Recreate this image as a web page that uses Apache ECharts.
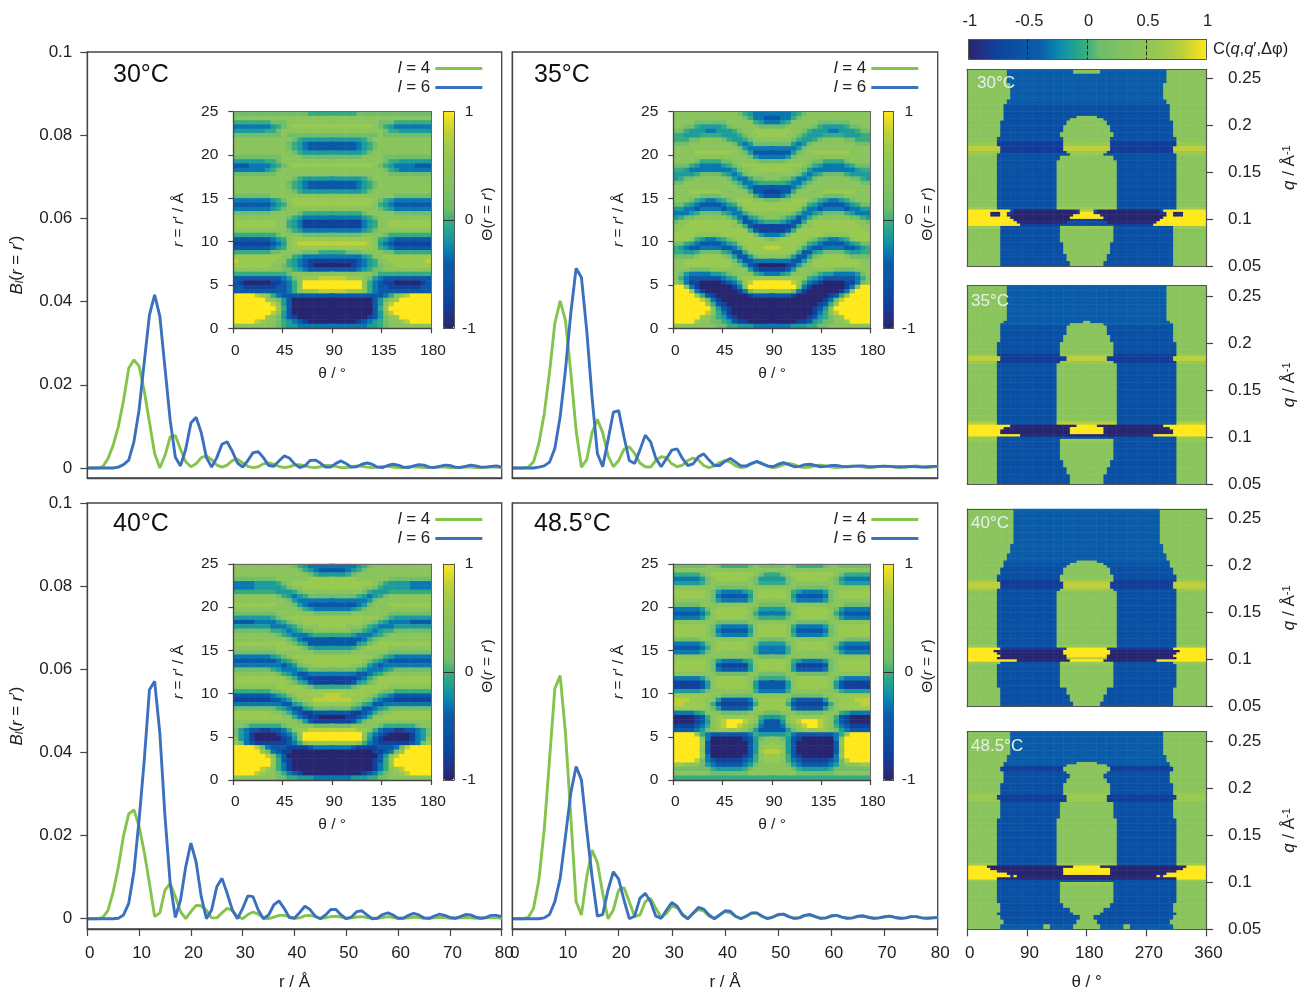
<!DOCTYPE html>
<html><head><meta charset="utf-8">
<style>html,body{margin:0;padding:0;background:#fff}#c{width:1298px;height:988px}</style>
<script src="https://cdn.jsdelivr.net/npm/echarts@6/dist/echarts.min.js"></script>
</head><body><div id="c"></div>
<script>
// ---------- B_l(r = r') curves, r = 0..80 A in 1 A steps ----------
const rValues=[...Array(81).keys()];
const l4_30=[0,0,0,.0003,.0023,.0055,.01,.0163,.024,.026,.0245,.0185,.011,.0035,0,.003,.0075,.0078,.0045,.0015,.0003,.001,.0025,.0029,.002,.0007,.0002,.0007,.0018,.0021,.0012,.0004,.0001,.0003,.001,.0012,.0009,.0004,.0001,.0003,.0007,.0008,.0005,.0002,.0001,.0003,.0006,.0006,.0004,.0001,.0001,.0003,.0005,.0004,.0002,.0001,.0002,.0004,.0004,.0002,.0001,.0001,.0003,.0003,.0002,.0001,.0001,.0002,.0003,.0002,.0001,.0001,.0002,.0003,.0002,.0001,.0001,.0002,.0002,.0002,.0001];
const l6_30=[0,0,0,0,0,0,.0002,.0008,.0019,.0063,.014,.0255,.0368,.0416,.0365,.024,.0115,.0026,.0005,.0045,.0108,.0122,.0085,.0025,.0002,.0025,.0057,.0063,.004,.0012,.0002,.0018,.0037,.0039,.0025,.0006,.0004,.0017,.0029,.0024,.001,.0001,.0005,.0018,.0019,.0012,.0002,.0002,.0011,.0017,.001,.0002,.0003,.0009,.0012,.0009,.0002,.0001,.0006,.0009,.0007,.0002,.0001,.0005,.0008,.0007,.0002,.0001,.0004,.0007,.0006,.0002,.0001,.0004,.0007,.0005,.0002,.0002,.0004,.0005,.0002];
const l4_35=[0,0,0,.0002,.0015,.0059,.013,.023,.0348,.0402,.0355,.023,.009,.0002,.002,.0085,.0117,.0085,.003,.0003,.0018,.0045,.0051,.0035,.0012,.0003,.0002,.0018,.0027,.0025,.001,.0003,.0007,.0018,.0024,.0019,.0006,.0001,.0005,.0013,.0018,.0014,.0005,.0001,.0003,.001,.0015,.0011,.0004,.0001,.0003,.0008,.0011,.0008,.0003,.0001,.0002,.0006,.0007,.0005,.0002,.0001,.0002,.0004,.0005,.0004,.0002,.0001,.0002,.0004,.0005,.0004,.0002,.0001,.0002,.0004,.0005,.0003,.0001,.0002,.0004];
const l6_35=[0,0,0,0,0,.0002,.0005,.0014,.0047,.0123,.0236,.0372,.048,.0458,.033,.017,.0035,.0003,.0067,.0134,.0138,.0075,.0018,.0011,.0043,.0079,.0063,.0023,.0003,.0023,.0043,.0046,.0023,.0006,.001,.0027,.0034,.0019,.0006,.0006,.0016,.0023,.0014,.0005,.0005,.0011,.0016,.001,.0005,.0003,.0009,.0013,.0008,.0003,.0004,.0008,.0009,.0006,.0003,.0004,.0006,.0006,.0004,.0003,.0004,.0005,.0005,.0003,.0003,.0004,.0004,.0004,.0003,.0003,.0003,.0004,.0003,.0002,.0003,.0004,.0004];
const l4_40=[0,0,0,.0003,.002,.0065,.0125,.02,.0252,.0262,.0222,.016,.0085,.0005,.0014,.0069,.0085,.0053,.0017,0,.0017,.0032,.0031,.002,.0002,.0002,.0014,.0025,.0019,.0005,0,.001,.0016,.0011,.0002,0,.0004,.0008,.0008,.0005,.0001,.0002,.0007,.0008,.0005,.0001,.0002,.0005,.0006,.0004,.0001,.0002,.0004,.0005,.0003,.0001,.0001,.0003,.0005,.0003,.0001,.0001,.0002,.0004,.0003,.0001,.0001,.0002,.0003,.0003,.0001,.0001,.0002,.0003,.0002,.0001,.0001,.0002,.0002,.0002,.0001];
const l6_40=[0,0,0,0,0,0,.0001,.0009,.0037,.0113,.0238,.0382,.0551,.0571,.0447,.0246,.0085,.0003,.0045,.0125,.0182,.0137,.0053,0,.0021,.0077,.0097,.0061,.0021,0,.0025,.0055,.0053,.0021,0,.0009,.0033,.0043,.0025,.0003,.0001,.0015,.003,.0022,.0006,0,.0009,.0022,.0022,.0009,0,.0004,.0017,.0019,.0009,0,.0001,.001,.0014,.0009,.0001,.0001,.0008,.0013,.0009,.0002,.0001,.0006,.0011,.0008,.0003,.0001,.0005,.001,.0009,.0004,.0001,.0003,.0008,.0008,.0005];
const l4_48=[0,0,0,.0003,.0025,.0093,.0214,.0382,.0553,.0585,.0447,.0246,.0041,.0009,.0101,.0165,.0135,.0061,0,.0021,.0069,.0075,.0041,.0005,.0009,.0041,.0049,.0025,.0003,.0013,.003,.0027,.0011,0,.0013,.0022,.0019,.0006,.0001,.0009,.0017,.0014,.0005,.0001,.0006,.0013,.0013,.0005,.0001,.0004,.0009,.0011,.0005,.0001,.0003,.0008,.0009,.0005,.0001,.0002,.0006,.0008,.0004,.0001,.0002,.0005,.0006,.0004,.0001,.0002,.0004,.0006,.0003,.0001,.0002,.0005,.0005,.0002,.0001,.0002,.0003];
const l6_48=[0,0,0,0,0,0,.0002,.001,.0041,.0097,.0198,.0302,.0366,.0334,.0214,.0101,.0006,.001,.0069,.0113,.0095,.0045,0,.0006,.0049,.0061,.0041,.0006,.0001,.0021,.0039,.003,.0009,0,.0013,.0027,.0023,.0009,0,.0009,.0019,.0018,.0006,0,.0006,.0014,.0014,.0006,0,.0004,.001,.0011,.0005,.0001,.0002,.0008,.001,.0005,.0001,.0002,.0007,.0008,.0004,.0001,.0002,.0006,.0007,.0003,.0001,.0002,.0005,.0006,.0003,.0001,.0002,.0005,.0005,.0002,.0001,.0002,.0003];

// ---------- Inset Theta(r = r') cells, one string per row (r = 25 at top, 0.5 A rows),
// half of the theta range (0..90 deg, 19 columns), characters index insetLevels ----------
const insetLevels={0:-1,1:-.75,2:-.5,3:-.3,4:-.15,5:-.03,6:.12,7:.4,8:.6,9:.8,Y:1};
const inset30=["6666666666666655555","7777777777777777777","5555555666777777777","3333333456788888888","4444445567777777777","6666666667666666666","7777777777765444444","7777777777654322222","7777777777654322222","7777777777765444444","6666666667777666666","4444445567777777777","2223333456788888888","3333334567777777777","6666666677777777777","7777777777765444444","7777777777654322222","7777777777654322222","7777777777765444444","6666666777777777777","3333333456788888888","2222222345788888888","3333333456777777777","6666666777776555555","7777777777654333333","8888888877543111111","8888888877543111111","7777777777654333333","5555555567777666666","2222222345788888888","1111111234789999999","2222222345788888888","5555555667777666555","8888888887754333333","9888888877543211111","8888888776543210000","7777777776654322222","5555555555677777777","2222222223467888999","2100000112357YYYYYY","2211111122357YYYYYY","2222222222357888999","YYYY987532222222222","YYYYYY8764200000000","YYYYYYY974200000000","YYYYYYYY85200000000","YYYYYYY974200000000","YYYYYY8764210000000","YYYY987765432100000","7777777765443333333"];
const inset35=["7777777777776543333","7777777777777653322","7777666666777775433","7766544445677777666","6654443344456778888","5544455554445677888","5556677776544567777","6667777777764346666","7777777777776433333","7777888888877642222","7777777777777764333","7777655556677777666","6665433334567888888","5543333333346778888","4444566665434677777","4566777777643356677","6677777777765334555","7777777777776532222","7778888887777752211","7777766667777775322","7776543345678887766","6654322223457888888","4433233332335788888","3334566665433567777","4566777777653245677","6778888888875223455","7788888888877521111","7888888888888852111","8888777778888886433","8887543345678888876","6654322223457888888","5432233332235788899","5544566665422578888","6666788887642246777","7788888888864223333","7788888888876421000","7776666777777742111","7643333445677775433","7532222223457888888","763110000123589YYYY","YY731000000137YYYYY","YYY8310000001368888","YYYY852100000012222","YYYYY96310000000000","YYYYYY8521000000000","YYYYYYY742100000000","YYYYYY9753100000000","YYYYY87654210000000","YYYY877665421100000","7777777766554443333"];
const inset40=["7777777777765433333","7777777777776543222","7777777777777765444","6666666677777788888","3333444456788888888","3333444445677888888","5555555544456777777","7777777765434566666","7777777777643333333","8888888877764322222","7777777777776543333","6666666677777776666","4444444567888888888","2222333345677888888","4444444333456777888","6666666554345667777","7777777765433345555","7777777777653222222","8888888888765422222","7777777788887654444","6666666677777776666","3333333456788888888","2222222234567888888","3333333332346778888","6666666543334566666","7777777765432233333","8888888888653211111","8888888888765421111","7777777788888765555","5555555667888888888","2222222345678888899","1111111223467889999","3333333332245678888","6666666654322456666","8888888776532112222","8888888887753211000","7777777777776421111","7765555556777776666","6432211223578899999","6431000012357YYYYYY","7431000001247YYYYYY","8632111111235788888","YYYY963222111123333","YYYYY86321100000000","YYYYYY9742000000000","YYYYYYY852100000000","YYYYYYY853100000000","YYYYY98753100000000","YYYY987765321000000","7777777766554443333"];
const inset48=["6666667765555567666","7777777777777777777","5555567888888887655","3333346788888876444","4444456777777776555","7777777766666677777","8888887643333457888","8888887632222247888","7777777643333357777","6666677777777777666","3333346788888876444","2222235788888875333","3333346788888876555","7777777766666677777","8888887643333357888","8888887632222247888","8888887643333357888","6666677777777777666","3333346788888876444","2222235788888875333","3333346777777775333","7777777777777777666","8888887643333457888","8888887621111147888","8888887632222247888","7777777766666677666","3333346788888876555","1111124788888874222","1111124788888874222","4444456777777775333","8888888776666667777","9998887742222236888","9988887521111125888","8888887642222237888","3333457776666677766","0000125788888887544","0000124789YYY987422","1111235789YY9876322","2222346788888764222","YYYY853222222235444","YYYYY73000000124677","YYYYY82000000024778","YYYYY72000000024788","YYYYY72000000024899","YYYYY83000000125788","YYYY963211111235788","8877764322222346777","6666666544444567777","7777777666666677777","5555555555555555555"];

// ---------- C(q,q',dphi) cells, q from the top, half of 0..360 deg (36 columns).
// Each row: [repeat, level, endColumn, level, endColumn, ...]; levels 0..10 are -1 .. 1 ----------
const corr30=[[2,7,12,3,32,7,36],[4,7,12,3,36],[7,7,13,3,36],[2,7,12,3,36],[5,7,11,2,36],[1,7,11,2,33,7,36],[1,7,11,2,31,7,36],[2,7,10,2,30,7,36],[3,7,10,2,29,7,36],[2,7,10,2,28,7,36],[2,7,9,2,29,7,36],[2,8,9,1,29,8,36],[2,9,10,1,29,9,36],[1,8,10,1,30,8,36],[1,8,9,2,31,8,36],[2,7,9,2,28,7,36],[20,7,9,2,27,7,36],[1,8,9,2,27,8,36],[1,10,13,2,14,0,33,2,34,9,36],[1,10,7,0,10,10,12,1,14,0,33,1,34,10,36],[1,10,7,0,10,10,12,0,32,10,36],[1,10,13,0,31,10,36],[1,10,14,0,31,1,36],[1,10,15,0,30,2,36],[1,10,16,1,28,2,36],[1,8,10,2,28,8,36],[6,7,10,2,28,7,36],[5,7,10,2,29,7,36],[3,7,10,2,30,7,36],[2,7,10,2,31,7,36]];
const corr35=[[15,7,12,3,36],[1,7,11,3,35,7,36],[1,7,10,3,31,7,36],[4,7,10,2,30,7,36],[3,7,10,2,29,7,36],[5,7,9,2,28,7,36],[1,8,9,1,28,8,36],[2,9,10,1,30,9,36],[1,8,9,1,28,8,36],[24,7,9,2,27,7,36],[1,8,9,2,27,8,36],[1,9,9,2,27,9,36],[1,10,13,0,33,10,36],[1,10,11,0,31,10,36],[2,10,10,0,31,10,36],[1,10,16,0,36],[1,8,9,2,36],[1,8,9,2,28,8,36],[8,7,9,2,28,7,36],[3,7,9,2,29,7,36],[3,7,9,2,30,7,36],[4,7,9,2,31,7,36]];
const corr40=[[15,7,14,3,36],[4,7,13,3,36],[3,7,12,3,36],[1,7,11,3,33,7,36],[1,7,11,2,31,7,36],[1,7,11,2,30,7,36],[3,7,10,2,29,7,36],[2,7,9,2,28,7,36],[1,8,9,1,28,8,36],[3,9,10,1,29,9,36],[1,8,9,2,28,8,36],[23,7,9,2,27,7,36],[1,8,9,2,27,8,36],[1,10,10,1,30,10,36],[1,10,8,0,29,10,36],[1,10,9,0,29,10,36],[1,10,10,0,30,10,36],[1,10,9,0,30,9,36],[1,10,15,0,31,10,36],[1,8,10,2,28,8,36],[10,7,9,2,28,7,36],[3,7,10,2,30,7,36],[3,7,10,2,31,7,36],[2,7,10,2,32,7,36]];
const corr48=[[10,7,13,3,36],[3,7,12,3,36],[1,7,11,3,33,7,36],[1,7,11,2,30,7,36],[2,7,10,1,29,7,36],[1,7,11,2,30,7,36],[2,7,11,2,31,7,36],[2,7,11,2,30,7,36],[4,7,10,2,29,7,36],[1,8,10,2,29,8,36],[2,8,9,1,30,8,36],[1,8,10,1,30,8,36],[7,7,10,2,28,7,36],[19,7,9,2,27,7,36],[1,8,9,2,27,8,36],[1,10,6,0,32,10,36],[1,10,7,0,29,10,36],[1,10,9,0,29,10,36],[1,10,12,0,29,10,36],[1,10,13,1,14,10,15,0,36],[1,10,9,0,36],[1,8,9,2,36],[1,7,9,2,28,8,36],[8,7,9,2,28,7,36],[2,7,10,2,29,7,36],[2,7,10,2,31,7,36],[1,7,9,2,32,7,36],[2,7,10,2,34,7,36],[2,7,11,2,33,7,36],[2,7,10,3,23,7,25,3,32,7,36]];

// ---------- tick labels and colours ----------
const bTicks=[0,.02,.04,.06,.08,.1];
const rTicks=[0,10,20,30,40,50,60,70,80];
const qTicks=[.05,.1,.15,.2,.25];
const angleTicks=[0,45,90,135,180];
const fullAngleTicks=[0,90,180,270,360];
const sepTicks=[0,5,10,15,20,25];
const cbTicks=[-1,0,1];
const topCbTicks=[-1,-.5,0,.5,1];
const topCbDashes=[-.5,0,.5];
const palette=['#272570','#25307f','#123c98','#0d479f','#0a50a4','#0a58a8','#0a5ca9','#0a78b0','#1393a8','#23a38f','#3dae7c','#6fbc6c','#78bf66','#82c261','#8ac45c','#90c657','#98c950','#a8cc48','#bdd03a','#dcdb2a','#ffe81b'];
const GREEN='#84c44c',BLUE='#3b70bf',INK='#222',FRAME='#444',FONT='"Liberation Sans",Arial,sans-serif';

const grids=[],xAxes=[],yAxes=[],series=[],visualMaps=[],titles=[],legends=[];
const addGrid=(l,t,r,b)=>{grids.push({left:l,top:t,width:r-l,height:b-t,containLabel:false,outerBoundsMode:'none'});return grids.length-1;};
const line={show:true,onZero:false,lineStyle:{color:FRAME,width:1.3}};
const hid={show:false};
const plainAxis=(gridIndex,position,min,max,extra)=>Object.assign({type:'value',gridIndex,position,min,max,z:6,silent:true,
  splitLine:hid,axisLine:line,axisTick:hid,axisLabel:hid},extra||{});
const ticks=(len,vals)=>({show:true,inside:false,length:len,lineStyle:{color:FRAME,width:1.2},customValues:vals});
const labels=(size,vals,margin,pad)=>({show:true,fontSize:size,color:INK,fontFamily:FONT,margin,customValues:vals,hideOverlap:false,showMinLabel:true,showMaxLabel:true,padding:pad||0});
const rich={i:{fontStyle:'italic',fontSize:17,fontFamily:FONT,color:INK},n:{fontSize:17,fontFamily:FONT,color:INK},
  s:{fontStyle:'italic',fontSize:11,fontFamily:FONT,color:INK,verticalAlign:'bottom'},u:{fontSize:11,fontFamily:FONT,color:INK,verticalAlign:'top'}};
const rich2={i:{fontStyle:'italic',fontSize:15.5,fontFamily:FONT,color:INK},n:{fontSize:15.5,fontFamily:FONT,color:INK}};
const plainName={fontSize:17,fontFamily:FONT,color:INK};

function linePanel(l,t,r,b,y0,showY,showX,d4,d6,title,titleX,titleY){
  const g=addGrid(l,t,r,b);
  grids[g].show=true;grids[g].borderColor=FRAME;grids[g].borderWidth=1.3;grids[g].backgroundColor='#fff';
  const yMin=-(b-y0)/((y0-t)/0.1);
  const xi=xAxes.length,yi=yAxes.length;
  xAxes.push(plainAxis(g,'bottom',0,80,showX?{axisTick:ticks(7,rTicks),
    axisLabel:labels(17,rTicks,16,[0,0,0,5]),name:'r / Å',nameLocation:'middle',nameGap:45,nameTextStyle:plainName}:{}));
  yAxes.push(plainAxis(g,'left',yMin,0.1,showY?{axisTick:ticks(7,bTicks),axisLabel:labels(17,bTicks,15),
    name:'{i|B}{s|l}{n|(}{i|r}{n| = }{i|r}{n|′)}',nameLocation:'middle',nameGap:62,nameRotate:90,nameTextStyle:{rich,fontFamily:FONT}}:{}));
  [[ 'l = 4',d4,GREEN],['l = 6',d6,BLUE]].forEach(([name,d,c])=>series.push({type:'line',name,xAxisIndex:xi,yAxisIndex:yi,
    data:d.map((v,i)=>[rValues[i],v]),symbol:'none',smooth:false,lineStyle:{color:c,width:2.9},itemStyle:{color:c},z:3,silent:true,clip:true}));
  titles.push({text:title,left:titleX,top:titleY,textStyle:{fontSize:25,fontWeight:'normal',fontFamily:FONT,color:'#111'},padding:0});
  legends.push({data:['l = 4','l = 6'],left:r-104,top:t+8,orient:'vertical',align:'right',itemWidth:47,itemHeight:3,icon:'rect',itemGap:2,padding:0,selectedMode:false,
    formatter:n=>'{i|l}{n|'+n.slice(1)+'}',textStyle:{fontSize:17,fontFamily:FONT,color:INK,rich:{i:{fontStyle:'italic',fontSize:17,fontFamily:FONT,color:INK},n:{fontSize:17,fontFamily:FONT,color:INK}}}});
}
function heat(g,rows,nCols,seriesList){
  const nRows=rows.length,xi=xAxes.length,yi=yAxes.length;
  xAxes.push({type:'category',gridIndex:g,show:false,data:[...Array(nCols).keys()]});
  yAxes.push({type:'category',gridIndex:g,show:false,data:[...Array(nRows).keys()]});
  const data=[];
  rows.forEach((row,i)=>row.forEach((v,c)=>{data.push([c,nRows-1-i,v],[nCols-1-c,nRows-1-i,v]);}));
  seriesList.push(series.length);
  series.push({type:'heatmap',xAxisIndex:xi,yAxisIndex:yi,data,silent:true,z:2,progressive:0,emphasis:{disabled:true}});
}
const decodeInset=rows=>rows.map(s=>[...s].map(ch=>insetLevels[ch]));
const decodeCorr=rows=>{const out=[];rows.forEach(r=>{const cells=[];for(let k=1;k<r.length;k+=2){while(cells.length<r[k+1])cells.push((r[k]-5)/5);}
  for(let n=0;n<r[0];n++)out.push(cells);});return out;};

function inset(l,t,r,b,cbL,cbR,rows){
  const g=addGrid(l,t,r,b),list=[];
  heat(g,decodeInset(rows),37,list);
  xAxes.push(plainAxis(g,'bottom',0,180,{axisTick:ticks(5,angleTicks),axisLabel:labels(15.5,angleTicks,14,[0,0,0,4]),
    name:'θ / °',nameLocation:'middle',nameGap:37,nameTextStyle:{fontSize:15.5,fontFamily:FONT,color:INK}}));
  xAxes.push(plainAxis(g,'top',0,180,{axisLine:{show:true,onZero:false,lineStyle:{color:'#666',width:1}}}));
  yAxes.push(plainAxis(g,'left',0,25,{axisTick:ticks(5,sepTicks),axisLabel:labels(15.5,sepTicks,15),
    name:'{i|r}{n| = }{i|r}{n|′ / Å}',nameLocation:'middle',nameGap:47,nameRotate:90,nameTextStyle:{rich:rich2,fontFamily:FONT}}));
  yAxes.push(plainAxis(g,'right',0,25,{axisLine:{show:true,onZero:false,lineStyle:{color:'#666',width:1}}}));
  // colour bar: native visualMap plus an axis frame holding its tick labels
  visualMaps.push({type:'continuous',min:-1,max:1,seriesIndex:list,inRange:{color:palette},calculable:false,realtime:false,text:null,
    left:cbL,top:t,itemWidth:cbR-cbL,itemHeight:b-t,padding:0,orient:'vertical',hoverLink:false,z:3,show:true});
  const cg=addGrid(cbL,t,cbR,b);
  const cbLine={show:true,onZero:false,lineStyle:{color:'#555',width:1}};
  xAxes.push(plainAxis(cg,'bottom',0,1,{axisLine:cbLine}));
  xAxes.push(plainAxis(cg,'top',0,1,{axisLine:cbLine}));
  yAxes.push(plainAxis(cg,'left',-1,1,{axisLine:cbLine}));
  yAxes.push(plainAxis(cg,'right',-1,1,{axisLine:cbLine,
    axisTick:{show:true,inside:true,length:cbR-cbL,lineStyle:{color:'#333',width:1},customValues:[0]},
    axisLabel:Object.assign(labels(15.5,cbTicks,15),{align:'center'}),
    name:'{n|Θ(}{i|r}{n| = }{i|r}{n|′)}',nameLocation:'middle',nameGap:18,nameRotate:90,nameTextStyle:{rich:rich2,fontFamily:FONT,padding:[0,0,16,12]}}));
}

const rightSeries=[];
function corrPanel(t,b,rows,title,tX,tY,last){
  const L=967.3,R=1206;
  const g=addGrid(L,t,R,b);
  heat(g,decodeCorr(rows),72,rightSeries);
  const qMax=0.05+(b-t)/47*0.05;
  const sideLine={show:true,onZero:false,lineStyle:{color:'#555',width:1.2}};
  xAxes.push(plainAxis(g,'bottom',0,360,last?{axisLine:sideLine,axisTick:ticks(7,fullAngleTicks),axisLabel:labels(17,fullAngleTicks,16,[0,0,0,5]),
    name:'θ / °',nameLocation:'middle',nameGap:45,nameTextStyle:plainName}:{axisLine:sideLine}));
  xAxes.push(plainAxis(g,'top',0,360,{axisLine:sideLine}));
  yAxes.push(plainAxis(g,'left',.05,qMax,{axisLine:sideLine}));
  yAxes.push(plainAxis(g,'right',.05,qMax,{axisLine:sideLine,axisTick:ticks(7,qTicks),axisLabel:labels(17,qTicks,22),
    name:'{i|q}{n| / Å}{u|-1}',nameLocation:'middle',nameGap:75,nameRotate:90,nameTextStyle:{rich,fontFamily:FONT}}));
  titles.push({text:title,left:tX,top:tY,textStyle:{fontSize:17,fontWeight:'normal',fontFamily:FONT,color:'#e6f0ee'},padding:0,z:8});
}

linePanel(87.3,52,501.7,478,468,true,false,l4_30,l6_30,'30°C',113,63);
linePanel(512.3,52,937.7,478,468,false,false,l4_35,l6_35,'35°C',534,63);
linePanel(87.3,503,501.7,929,918.7,true,true,l4_40,l6_40,'40°C',113,512);
linePanel(512.3,503,937.7,929,918.7,false,true,l4_48,l6_48,'48.5°C',534,512);

inset(233.3,111.7,431,328.3,443.3,454,inset30);
inset(673.3,111.7,870.7,328.3,883.3,893.7,inset35);
inset(233.3,564,431,780,443.3,454,inset40);
inset(673.3,564,870.7,780,883.3,893.7,inset48);

corrPanel(69.3,266,corr30,'30°C',977,75,false);
corrPanel(285.7,484,corr35,'35°C',971,293,false);
corrPanel(509,706.7,corr40,'40°C',971,515,false);
corrPanel(731.7,929.3,corr48,'48.5°C',971,738,true);

// top colour bar
visualMaps.push({type:'continuous',min:-1,max:1,seriesIndex:rightSeries,inRange:{color:palette},calculable:false,realtime:false,text:null,
  left:968.3,top:39.3,itemWidth:20,itemHeight:1206-968.3,padding:0,orient:'horizontal',hoverLink:false,z:3,show:true});
const tg=addGrid(968.3,39.3,1206,59.3);
const tl={show:true,onZero:false,lineStyle:{color:'#555',width:1}};
xAxes.push(plainAxis(tg,'top',-1,1,{axisLine:tl,axisLabel:labels(16.5,topCbTicks,9,[0,0,0,3]),
  axisTick:{show:true,inside:true,length:20,lineStyle:{color:'#222',width:1,type:'dashed'},customValues:topCbDashes}}));
xAxes.push(plainAxis(tg,'bottom',-1,1,{axisLine:tl}));
yAxes.push(plainAxis(tg,'left',0,1,{axisLine:tl}));
yAxes.push(plainAxis(tg,'right',0,1,{axisLine:tl}));
titles.push({text:'{n|C(}{i|q}{n|,}{i|q}{n|′,Δφ)}',left:1213,top:41,padding:0,textStyle:{fontWeight:'normal',rich:{i:{fontStyle:'italic',fontWeight:'normal',fontSize:16.5,fontFamily:FONT,color:INK},n:{fontWeight:'normal',fontSize:16.5,fontFamily:FONT,color:INK}}}});

const chart=echarts.init(document.getElementById('c'),null,{renderer:'canvas'});
chart.setOption({animation:false,backgroundColor:'#fff',title:titles,legend:legends,grid:grids,xAxis:xAxes,yAxis:yAxes,visualMap:visualMaps,series,tooltip:{show:false}});
</script></body></html>
